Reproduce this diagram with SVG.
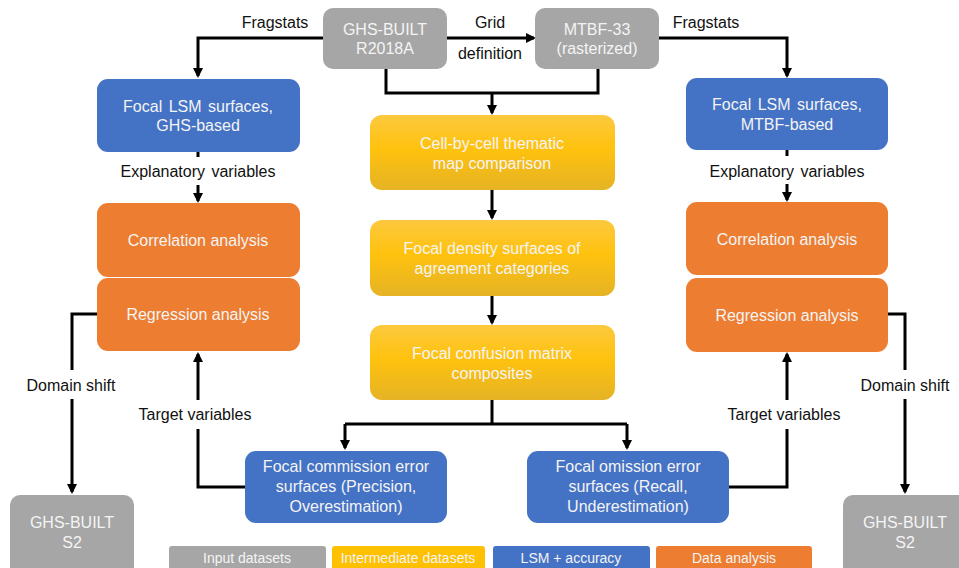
<svg xmlns="http://www.w3.org/2000/svg" width="959" height="568" viewBox="0 0 959 568">
<defs>
<linearGradient id="yg" x1="0" y1="0" x2="0" y2="1">
<stop offset="0" stop-color="#fcc93f"/>
<stop offset="0.45" stop-color="#ffc20e"/>
<stop offset="1" stop-color="#e5b325"/>
</linearGradient>
<marker id="ah" markerWidth="10" markerHeight="10" refX="8" refY="5" orient="auto" markerUnits="userSpaceOnUse">
<path d="M0,0 L10,5 L0,10 Z" fill="#000"/>
</marker>
<style>
.grey{fill:#a6a6a6}
.blue{fill:#4472c4}
.orange{fill:#ed7d31}
.yellow{fill:url(#yg)}
.bt{font-family:"Liberation Sans",Arial,sans-serif;font-size:16px;fill:#f4f4f4;text-anchor:middle}
.lt{font-family:"Liberation Sans",Arial,sans-serif;font-size:16px;fill:#111;text-anchor:middle}
.lg{font-family:"Liberation Sans",Arial,sans-serif;font-size:14px;fill:#f4f4f4;text-anchor:middle}
.c{fill:none;stroke:#000;stroke-width:3}
.a{marker-end:url(#ah)}
</style>
</defs>
<rect width="959" height="568" fill="#fff"/>

<g id="connectors">
<path class="c a" d="M323,38 H198 V76"/>
<path class="c a" d="M447,38 H534"/>
<path class="c a" d="M659,38 H787 V76"/>
<path class="c" d="M386,69 V93 H598 V69"/>
<path class="c a" d="M492,93 V113"/>
<path class="c" d="M198,152 V157"/>
<path class="c a" d="M198,185 V201"/>
<path class="c" d="M787,150 V156"/>
<path class="c a" d="M787,184 V200"/>
<path class="c a" d="M492,190 V218"/>
<path class="c a" d="M492,296 V323"/>
<path class="c" d="M492,400 V424"/>
<path class="c" d="M345,424 H627"/>
<path class="c a" d="M345,424 V448"/>
<path class="c a" d="M627,424 V448"/>
<path class="c" d="M245,487 H198 V429"/>
<path class="c a" d="M198,400 V354"/>
<path class="c" d="M729,487 H787 V429"/>
<path class="c a" d="M787,400 V354"/>
<path class="c" d="M97,314 H72 V370"/>
<path class="c a" d="M72,399 V492"/>
<path class="c" d="M888,314 H905 V370"/>
<path class="c a" d="M905,399 V492"/>
</g>
<g id="labels">
<text class="lt" x="275" y="28">Fragstats</text>
<text class="lt" x="490" y="28">Grid</text>
<text class="lt" x="490" y="59">definition</text>
<text class="lt" x="706" y="28">Fragstats</text>
<text class="lt" x="198" y="177" word-spacing="2">Explanatory variables</text>
<text class="lt" x="787" y="177" word-spacing="2">Explanatory variables</text>
<text class="lt" x="195" y="420">Target variables</text>
<text class="lt" x="784" y="420">Target variables</text>
<text class="lt" x="71" y="391">Domain shift</text>
<text class="lt" x="905" y="391">Domain shift</text>
</g>

<g id="ghs-r2018a">
<rect class="grey" x="323" y="8" width="124" height="61" rx="10"/>
<text class="bt" x="385" y="35">GHS-BUILT</text>
<text class="bt" x="385" y="54">R2018A</text>
</g>
<g id="mtbf33">
<rect class="grey" x="535" y="8" width="124" height="61" rx="10"/>
<text class="bt" x="597" y="35">MTBF-33</text>
<text class="bt" x="597" y="54">(rasterized)</text>
</g>
<g id="lsm-ghs">
<rect class="blue" x="97" y="79" width="203" height="73" rx="11"/>
<text class="bt" x="198" y="112" word-spacing="2">Focal LSM surfaces,</text>
<text class="bt" x="198" y="131">GHS-based</text>
</g>
<g id="lsm-mtbf">
<rect class="blue" x="686" y="78" width="202" height="72" rx="11"/>
<text class="bt" x="787" y="110" word-spacing="2">Focal LSM surfaces,</text>
<text class="bt" x="787" y="130">MTBF-based</text>
</g>
<g id="cellbycell">
<rect class="yellow" x="370" y="115" width="245" height="75" rx="12"/>
<text class="bt" x="492" y="149">Cell-by-cell thematic</text>
<text class="bt" x="492" y="169">map comparison</text>
</g>
<g id="density">
<rect class="yellow" x="370" y="220" width="245" height="76" rx="12"/>
<text class="bt" x="492" y="254">Focal density surfaces of</text>
<text class="bt" x="492" y="274">agreement categories</text>
</g>
<g id="confusion">
<rect class="yellow" x="370" y="325" width="245" height="75" rx="12"/>
<text class="bt" x="492" y="359">Focal confusion matrix</text>
<text class="bt" x="492" y="379">composites</text>
</g>
<g id="corr-left">
<rect class="orange" x="97" y="203" width="203" height="74" rx="11"/>
<text class="bt" x="198" y="246">Correlation analysis</text>
</g>
<g id="reg-left">
<rect class="orange" x="97" y="278" width="203" height="73" rx="11"/>
<text class="bt" x="198" y="320">Regression analysis</text>
</g>
<g id="corr-right">
<rect class="orange" x="686" y="202" width="202" height="73" rx="11"/>
<text class="bt" x="787" y="245">Correlation analysis</text>
</g>
<g id="reg-right">
<rect class="orange" x="686" y="278" width="202" height="74" rx="11"/>
<text class="bt" x="787" y="321">Regression analysis</text>
</g>
<g id="commission">
<rect class="blue" x="245" y="451" width="202" height="72" rx="11"/>
<text class="bt" x="346" y="472">Focal commission error</text>
<text class="bt" x="346" y="492">surfaces (Precision,</text>
<text class="bt" x="346" y="512">Overestimation)</text>
</g>
<g id="omission">
<rect class="blue" x="527" y="451" width="202" height="72" rx="11"/>
<text class="bt" x="628" y="472">Focal omission error</text>
<text class="bt" x="628" y="492">surfaces (Recall,</text>
<text class="bt" x="628" y="512">Underestimation)</text>
</g>
<g id="s2-left">
<rect class="grey" x="10" y="495" width="124" height="85" rx="10"/>
<text class="bt" x="72" y="528">GHS-BUILT</text>
<text class="bt" x="72" y="548">S2</text>
</g>
<g id="s2-right">
<rect class="grey" x="843" y="495" width="130" height="85" rx="10"/>
<text class="bt" x="905" y="528">GHS-BUILT</text>
<text class="bt" x="905" y="548">S2</text>
</g>
<g id="legend">
<rect class="grey" x="169" y="546" width="157" height="26" rx="3"/>
<text class="lg" x="247" y="563">Input datasets</text>
<rect x="332" y="546" width="153" height="26" rx="3" fill="#ffc000"/>
<text class="lg" x="408" y="563">Intermediate datasets</text>
<rect class="blue" x="493" y="546" width="157" height="26" rx="3"/>
<text class="lg" x="571" y="563">LSM + accuracy</text>
<rect class="orange" x="656" y="546" width="156" height="26" rx="3"/>
<text class="lg" x="734" y="563">Data analysis</text>
</g>
</svg>
